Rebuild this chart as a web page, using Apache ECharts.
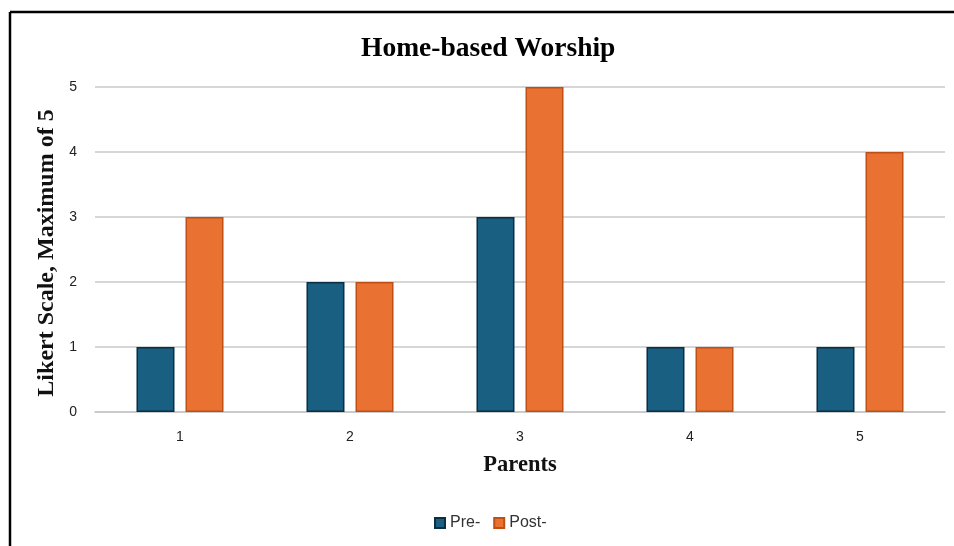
<!DOCTYPE html>
<html>
<head>
<meta charset="utf-8">
<script src="https://cdn.jsdelivr.net/npm/echarts@6/dist/echarts.min.js"></script>
<style>
  html, body { margin: 0; padding: 0; background: #fff; }
  #chart { width: 954px; height: 546px; }
</style>
</head>
<body>
<div id="chart"></div>
<script>
// Parents surveyed and their Likert ratings before / after
const parents = ['1', '2', '3', '4', '5'];
const preScores = [1, 2, 3, 1, 1];
const postScores = [3, 2, 5, 1, 4];
const yTicks = [0, 1, 2, 3, 4, 5];

const chart = echarts.init(document.getElementById('chart'));
const serif = '"Liberation Serif", "Times New Roman", serif';
const sans = '"Liberation Sans", Arial, sans-serif';

chart.setOption({
  animation: false,
  backgroundColor: '#ffffff',
  graphic: [
    { type: 'line', shape: { x1: 10, y1: 12, x2: 954, y2: 12 }, style: { stroke: '#000', lineWidth: 2.5 } },
    { type: 'line', shape: { x1: 10, y1: 12, x2: 10, y2: 546 }, style: { stroke: '#000', lineWidth: 2.5 } }
  ],
  title: {
    text: 'Home-based Worship',
    left: 356,
    top: 30,
    textStyle: { fontFamily: serif, fontWeight: 'bold', fontSize: 27.5, color: '#000' }
  },
  legend: {
    bottom: 10,
    left: 429,
    itemWidth: 10,
    itemHeight: 10,
    itemGap: 13,
    icon: 'rect',
    textStyle: { fontFamily: sans, fontSize: 16, color: '#333' },
    data: ['Pre-', 'Post-']
  },
  grid: { left: 95, right: 9, top: 87, bottom: 134 },
  xAxis: {
    type: 'category',
    data: parents,
    name: 'Parents',
    nameLocation: 'middle',
    nameGap: 42,
    nameTextStyle: { fontFamily: serif, fontWeight: 'bold', fontSize: 22.5, color: '#111' },
    axisLine: { show: true, lineStyle: { color: '#c8c8c8', width: 1.5 } },
    axisTick: { show: false },
    axisLabel: { fontFamily: sans, fontSize: 14, color: '#222', margin: 18 }
  },
  yAxis: {
    type: 'value',
    min: 0,
    max: 5,
    interval: 1,
    name: 'Likert Scale, Maximum of 5',
    nameLocation: 'middle',
    nameGap: 33,
    nameTextStyle: { fontFamily: serif, fontWeight: 'bold', fontSize: 24, color: '#111', padding: [0, 7, 0, 0] },
    axisLine: { show: false },
    axisTick: { show: false },
    axisLabel: {
      fontFamily: sans, fontSize: 14, color: '#222', margin: 18,
      formatter: v => (yTicks.includes(v) ? String(v) : '')
    },
    splitLine: { lineStyle: { color: '#c8c8c8', width: 1.5 } }
  },
  series: [
    {
      name: 'Pre-',
      type: 'bar',
      data: preScores,
      barWidth: 38,
      barGap: '29%',
      itemStyle: { color: '#185f82', borderColor: '#0c2e42', borderWidth: 1.5 }
    },
    {
      name: 'Post-',
      type: 'bar',
      data: postScores,
      barWidth: 38,
      itemStyle: { color: '#e97233', borderColor: '#c04f15', borderWidth: 1.5 }
    }
  ]
});
</script>
</body>
</html>
